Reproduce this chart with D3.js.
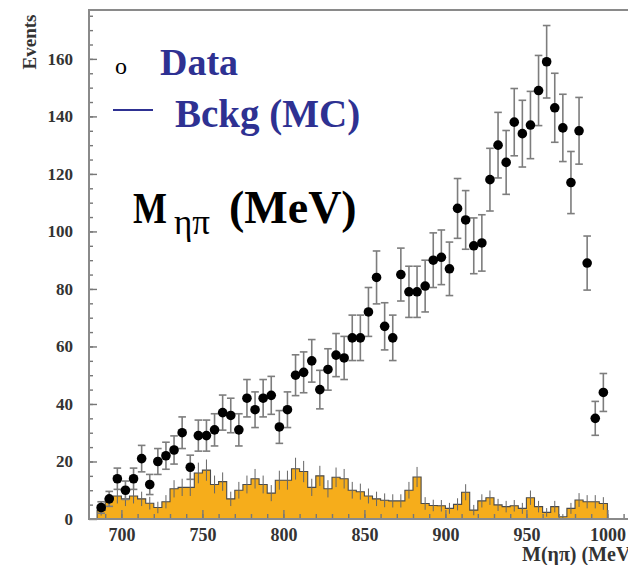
<!DOCTYPE html>
<html>
<head>
<meta charset="utf-8">
<script src="https://cdn.jsdelivr.net/npm/d3@7"></script>
<style>
body{margin:0;background:#fff;overflow:hidden;}
svg{display:block;}
</style>
</head>
<body>
<div id="chart"></div>
<script>
// bin centres (MeV), 5 MeV bins from 685 to 1000
var massBins=[687.5,692.5,697.5,702.5,707.5,712.5,717.5,722.5,727.5,732.5,
              737.5,742.5,747.5,752.5,757.5,762.5,767.5,772.5,777.5,782.5,
              787.5,792.5,797.5,802.5,807.5,812.5,817.5,822.5,827.5,832.5,
              837.5,842.5,847.5,852.5,857.5,862.5,867.5,872.5,877.5,882.5,
              887.5,892.5,897.5,902.5,907.5,912.5,917.5,922.5,927.5,932.5,
              937.5,942.5,947.5,952.5,957.5,962.5,967.5,972.5,977.5,982.5,
              987.5,992.5,997.5];
// data points
var dataCounts=[4,7,14,10,14,21,12,20,22,24,
                30,18,29,29,31,37,36,31,42,38,
                42,43,32,38,50,51,55,45,52,57,
                56,63,63,72,84,67,63,85,79,79,
                81,90,91,87,108,104,95,96,118,130,
                124,138,134,137,149,159,143,136,117,135,
                89,35,44];
var dataErrors=[2,2.6,3.7,3.2,3.7,4.6,3.5,4.5,4.7,4.9,
                5.5,4.2,5.4,5.4,5.6,6.1,6,5.6,6.5,6.2,
                6.5,6.6,5.7,6.2,7.1,7.1,7.4,6.7,7.2,7.5,
                7.5,7.9,7.9,8.5,9.2,8.2,7.9,9.2,8.9,8.9,
                9,9.5,9.5,9.3,10.4,10.2,9.7,9.8,10.9,11.4,
                11.1,11.7,11.6,11.7,12.2,12.6,12,11.7,10.8,11.6,
                9.4,5.9,6.6];
// background MC histogram
var bkgCounts=[3,7,8,7,8,7,5.5,4,6,10.5,
               11,11,16,17,12,13,7,10,12,14,
               12,9,13.5,13.5,17.5,16.5,11,15,10.5,14.5,
               14,10,9.5,8,7,6.5,6.3,6.3,10,14.6,
               5.4,4.7,4.6,3.7,5.1,9.3,3.1,6.3,7.4,4.9,
               4.3,4.6,3.7,7.4,4.3,2.3,4.3,0.8,3.7,6.6,
               6,6,5.4];
var bkgErrors=[1.8,2.5,2.6,2.5,2.6,2.5,2.2,2,2.3,3,
               3,3,3.6,3.7,3.1,3.2,2.5,2.9,3.1,3.4,
               3.1,2.8,3.3,3.3,3.8,3.7,3,3.5,3,3.4,
               3.4,2.9,2.8,2.6,2.5,2.4,2.3,2.3,2.9,3.5,
               2.2,2,2,1.9,2.1,2.8,1.8,2.3,2.5,2.1,
               2,2,1.9,2.5,2,1.5,2,0.9,1.9,2.4,
               2.3,2.3,2.2];
var xTicks=[700,750,800,850,900,950,1000];
var yTicks=[0,20,40,60,80,100,120,140,160];
var binWidth=5;

var svgwidth=628, svgheight=565;
var margin={"top":10,"left":89,"bottom":46};
var serif='"Liberation Serif","Times New Roman",serif';

var xscale=d3.scaleLinear()
             .domain([680,1025])
             .range([margin.left,margin.left+345*1.62]);
var yscale=d3.scaleLinear()
             .domain([0,177])
             .range([svgheight-margin.bottom,margin.top]);

var svg=d3.select("#chart")
          .append("svg")
          .attr("width",svgwidth)
          .attr("height",svgheight);

// histogram steps
var steps=[];
massBins.forEach(function (m,i) {
    steps.push({m:m-binWidth/2,v:bkgCounts[i]});
    steps.push({m:m+binWidth/2,v:bkgCounts[i]});
});
var area=d3.area()
           .x(function (d) {return xscale(d.m)})
           .y0(yscale(0))
           .y1(function (d) {return yscale(d.v)});
svg.append("path")
   .datum(steps)
   .attr("d",area)
   .attr("fill","#f6ad1b");
var outline=[{m:steps[0].m,v:0}].concat(steps,[{m:steps[steps.length-1].m,v:0}]);
svg.append("path")
   .datum(outline)
   .attr("d",d3.line()
               .x(function (d) {return xscale(d.m)})
               .y(function (d) {return yscale(d.v)}))
   .attr("fill","none")
   .attr("stroke","#4a4a4a")
   .attr("stroke-width",1.1);
svg.append("g")
   .selectAll("line")
   .data(massBins)
   .enter()
   .append("line")
   .attr("x1",function (d) {return xscale(d)})
   .attr("x2",function (d) {return xscale(d)})
   .attr("y1",function (d,i) {return yscale(bkgCounts[i]+bkgErrors[i])})
   .attr("y2",function (d,i) {return yscale(Math.max(0,bkgCounts[i]-bkgErrors[i]))})
   .attr("stroke","#666")
   .attr("stroke-width",1);

// axes
var yAxis=d3.axisLeft(yscale).tickValues(yTicks).tickSize(-8).tickPadding(16);
var yMinor=d3.axisLeft(yscale).tickValues(d3.range(5,177,5)).tickSize(-4).tickFormat("");
var xAxis=d3.axisBottom(xscale).tickValues(xTicks).tickSize(-9).tickPadding(9).tickFormat(d3.format("d"));
var xMinor=d3.axisBottom(xscale).tickValues(d3.range(690,1025,10)).tickSize(-5).tickFormat("");

function styleAxis(g,size) {
    g.select(".domain").remove();
    g.selectAll(".tick line").attr("stroke","#777").attr("stroke-width",1.4);
    g.selectAll(".tick text")
     .attr("fill","#333")
     .style("font-family",serif)
     .style("font-weight","bold")
     .style("font-size",(size||17)+"px");
}
svg.append("g").attr("transform","translate("+margin.left+",0)").call(yMinor).call(styleAxis);
svg.append("g").attr("transform","translate("+margin.left+",0)").call(yAxis).call(styleAxis,17);
svg.append("g").attr("transform","translate(0,"+yscale(0)+")").call(xMinor).call(styleAxis);
svg.append("g").attr("transform","translate(0,"+yscale(0)+")").call(xAxis).call(styleAxis,18);

// data error bars
var bars=svg.append("g")
            .attr("stroke","#7d7d7d")
            .attr("stroke-width",1.6);
bars.selectAll(".err")
    .data(massBins)
    .enter()
    .append("line")
    .attr("x1",function (d) {return xscale(d)})
    .attr("x2",function (d) {return xscale(d)})
    .attr("y1",function (d,i) {return yscale(dataCounts[i]+dataErrors[i])})
    .attr("y2",function (d,i) {return yscale(dataCounts[i]-dataErrors[i])});
["+","-"].forEach(function (s) {
    bars.selectAll(".cap"+(s=="+"?"u":"d"))
        .data(massBins)
        .enter()
        .append("line")
        .attr("x1",function (d) {return xscale(d)-3.8})
        .attr("x2",function (d) {return xscale(d)+3.8})
        .attr("y1",function (d,i) {return yscale(s=="+"?dataCounts[i]+dataErrors[i]:dataCounts[i]-dataErrors[i])})
        .attr("y2",function (d,i) {return yscale(s=="+"?dataCounts[i]+dataErrors[i]:dataCounts[i]-dataErrors[i])});
});
svg.append("g")
   .selectAll("circle")
   .data(massBins)
   .enter()
   .append("circle")
   .attr("cx",function (d) {return xscale(d)})
   .attr("cy",function (d,i) {return yscale(dataCounts[i])})
   .attr("r",4.8)
   .attr("fill","#000");

// frame
svg.append("rect")
   .attr("x",margin.left)
   .attr("y",margin.top)
   .attr("width",xscale(1025)-margin.left)
   .attr("height",yscale(0)-margin.top)
   .attr("fill","none")
   .attr("stroke","#8a8a8a")
   .attr("stroke-width",2);

// axis titles
svg.append("text")
   .text("Events")
   .attr("transform","translate(36,42) rotate(-90)")
   .attr("text-anchor","middle")
   .attr("fill","#333")
   .style("font-family",serif)
   .style("font-weight","bold")
   .style("font-size","19px");
svg.append("text")
   .text("M(ηπ) (MeV)")
   .attr("x",522)
   .attr("y",561)
   .attr("fill","#333")
   .style("font-family",serif)
   .style("font-weight","bold")
   .style("font-size","20px");

// legend
var blue="#2e3192";
svg.append("text")
   .text("o")
   .attr("x",115).attr("y",74)
   .attr("fill","#000")
   .style("font-family",serif)
   .style("font-size","24px");
svg.append("text")
   .text("Data")
   .attr("x",160).attr("y",75)
   .attr("fill",blue)
   .style("font-family",serif)
   .style("font-weight","bold")
   .style("font-size","38px");
svg.append("line")
   .attr("x1",113).attr("x2",153)
   .attr("y1",110).attr("y2",110)
   .attr("stroke",blue)
   .attr("stroke-width",1.8);
svg.append("text")
   .text("Bckg (MC)")
   .attr("x",175).attr("y",127)
   .attr("fill",blue)
   .style("font-family",serif)
   .style("font-weight","bold")
   .style("font-size","39px");

// big label M_{ηπ} (MeV)
svg.append("text")
   .text("M")
   .attr("transform","translate(133,223) scale(0.8,1)")
   .attr("fill","#000")
   .style("font-family",serif)
   .style("font-weight","bold")
   .style("font-size","45px");
svg.append("text")
   .text("ηπ")
   .attr("x",174).attr("y",234)
   .attr("fill","#000")
   .style("font-family",serif)
   .style("font-size","35px");
svg.append("text")
   .text("(MeV)")
   .attr("x",229).attr("y",223)
   .attr("fill","#000")
   .style("font-family",serif)
   .style("font-weight","bold")
   .style("font-size","46px");
</script>
</body>
</html>
